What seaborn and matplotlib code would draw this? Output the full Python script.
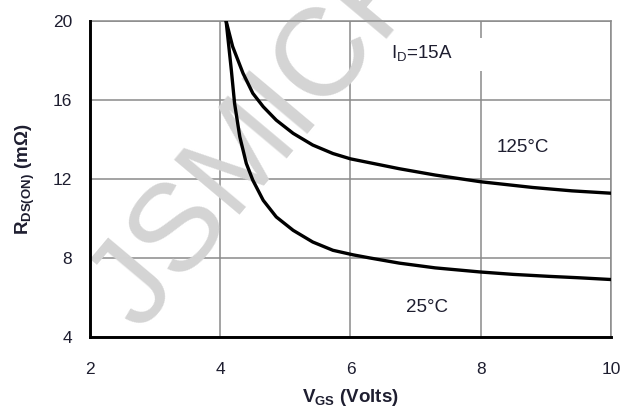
import pandas as pd
import numpy as np
import matplotlib
matplotlib.use("Agg")
import matplotlib.pyplot as plt
import seaborn as sns
from matplotlib import font_manager
from matplotlib.patches import Rectangle

# curve data (VGS in volts, RDS(on) in mOhm)
vgs_125 = [4.09, 4.19, 4.35, 4.50, 4.66, 4.86, 5.12, 5.42, 5.73, 6.0, 6.3, 6.75, 7.3, 8.0, 8.8, 9.4, 10.0]
rds_125 = [20.0, 18.71, 17.35, 16.34, 15.66, 14.98, 14.31, 13.72, 13.29, 13.02, 12.82, 12.52, 12.2, 11.86, 11.57, 11.4, 11.28]

vgs_25 = [4.09, 4.17, 4.22, 4.30, 4.40, 4.50, 4.66, 4.86, 5.12, 5.42, 5.73, 6.04, 6.3, 6.75, 7.3, 8.0, 8.5, 9.05, 9.5, 10.0]
rds_25 = [20.0, 17.52, 15.83, 14.14, 12.79, 11.94, 10.92, 10.08, 9.40, 8.81, 8.39, 8.16, 8.0, 7.74, 7.5, 7.29, 7.17, 7.07, 7.0, 6.91]

x_ticks = [2, 4, 6, 8, 10]
y_ticks = [4, 8, 12, 16, 20]

df = pd.concat([
    pd.DataFrame({"VGS": vgs_125, "RDS": rds_125, "temp": "125°C"}),
    pd.DataFrame({"VGS": vgs_25, "RDS": rds_25, "temp": "25°C"}),
])

sns.set_style("white")
plt.rcParams["font.family"] = ["Liberation Sans", "DejaVu Sans"]
plt.rcParams["mathtext.fontset"] = "custom"
plt.rcParams["mathtext.rm"] = "Liberation Sans"
plt.rcParams["mathtext.bf"] = "Liberation Sans:bold"
plt.rcParams["mathtext.it"] = "Liberation Sans:italic"

txt = "#1e1e30"
grid_c = "#8a8a8a"

fig = plt.figure(figsize=(6.22, 4.07), dpi=100)
ax = fig.add_axes([0.1447, 0.172, 0.8376, 0.7764])

# watermark (narrow face if there is one)
names = {f.name for f in font_manager.fontManager.ttflist}
if "Liberation Sans Narrow" in names:
    wm_font, wm_size = "Liberation Sans Narrow", 114
else:
    wm_font, wm_size = "Liberation Sans", 90
ax.text(5.15, 16.2, "JSMICRO", rotation=50, fontsize=wm_size, color="#d4d4d4",
        family=wm_font, ha="center", va="center", zorder=1.5,
        rotation_mode="anchor")

sns.lineplot(data=df, x="VGS", y="RDS", units="temp", estimator=None,
             color="black", linewidth=2.4, ax=ax, zorder=3, legend=False)

ax.set_xlim(2, 10)
ax.set_ylim(4, 20)
ax.set_xticks(x_ticks)
ax.set_yticks(y_ticks)
ax.grid(True, color=grid_c, linewidth=1.1, zorder=1)
ax.set_axisbelow(True)

for side in ["left", "bottom"]:
    ax.spines[side].set_color("black")
    ax.spines[side].set_linewidth(2.1)
    ax.spines[side].set_zorder(4)
for side in ["top", "right"]:
    ax.spines[side].set_color(grid_c)
    ax.spines[side].set_linewidth(1.1)

ax.tick_params(axis="both", length=0, labelsize=12.5, labelcolor=txt)
ax.tick_params(axis="y", pad=13)
ax.tick_params(axis="x", pad=18)

ax.set_xlabel(r"$\mathbf{V_{GS}}$ (Volts)", fontsize=13.5, fontweight="bold",
              color=txt, labelpad=7)
ax.set_ylabel(r"$\mathbf{R_{DS(ON)}}$ (mΩ)", fontsize=13.5, fontweight="bold",
              color=txt, labelpad=11)

# gap in the grid line behind the current label
ax.add_patch(Rectangle((7.93, 17.45), 0.14, 1.68, facecolor="white",
                       edgecolor="none", zorder=2))

ax.text(7.09, 18.37, r"I$_\mathrm{D}$=15A", fontsize=13.5, color=txt,
        ha="center", va="center", zorder=5)
ax.text(8.65, 13.62, "125°C", fontsize=13.5, color=txt,
        ha="center", va="center", zorder=5)
ax.text(7.17, 5.51, "25°C", fontsize=13.5, color=txt,
        ha="center", va="center", zorder=5)

fig.savefig("out.png", dpi=100)
